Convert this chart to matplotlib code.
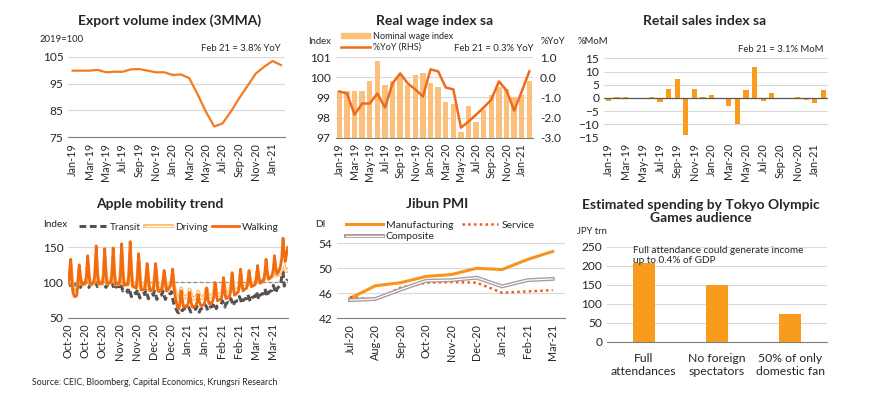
import numpy as np
import pandas as pd
import matplotlib
matplotlib.use('Agg')
import matplotlib.pyplot as plt
import matplotlib.patheffects as pe
from matplotlib.lines import Line2D
from matplotlib.patches import Patch

plt.rcParams['font.family'] = ['Lato', 'DejaVu Sans']

#* monthly data, Jan-19 .. Feb-21
months = pd.date_range('2019-01-01', '2021-02-01', freq='MS')
month_labels = [d.strftime('%b-%y') for d in months]

export_idx = [99.8, 99.8, 99.8, 100.1, 99.2, 99.4, 99.4, 100.3, 100.4, 99.8, 99.2, 99.2,
              98.2, 98.4, 97.0, 91.0, 84.5, 79.0, 80.2, 84.6, 89.6, 94.2, 98.8, 101.3,
              103.4, 101.9]

wage_idx = [99.3, 99.3, 99.3, 99.3, 99.8, 100.8, 99.6, 99.8, 100.1, 99.6, 100.1, 100.2,
            99.7, 99.5, 98.8, 98.7, 97.3, 98.6, 97.8, 98.4, 99.1, 99.5, 99.4, 99.0,
            99.1, 99.8]
wage_yoy = [-0.7, -0.8, -1.85, -1.3, -1.3, -0.8, -1.5, -0.3, 0.2, -0.3, -0.6, -0.95,
            0.4, 0.3, -0.5, -0.6, -2.5, -2.2, -1.85, -1.5, -1.1, -0.2, -0.65, -1.65,
            -0.7, 0.3]

retail_mom = [-1.0, 0.3, 0.4, 0.0, 0.0, 0.4, -1.5, 3.5, 7.2, -13.8, 3.5, 0.3,
              1.1, 0.0, -3.0, -10.0, 3.2, 11.7, -1.2, 1.8, 0.0, 0.0, 0.3, -0.6,
              -1.8, 3.1]

#* Apple mobility, daily from 1 Oct 2020 (one row per week)
walking = [
    100, 112, 133, 100, 85, 80, 80,
    82, 100, 125, 108, 98, 97, 100,
    99, 108, 138, 112, 98, 97, 99,
    100, 112, 152, 115, 99, 98, 100,
    99, 110, 148, 114, 98, 99, 100,
    100, 112, 149, 113, 97, 98, 99,
    98, 110, 155, 116, 96, 97, 98,
    97, 112, 158, 117, 95, 94, 93,
    92, 108, 141, 110, 90, 89, 90,
    91, 104, 127, 106, 89, 88, 90,
    90, 103, 127, 105, 88, 87, 89,
    90, 100, 117, 102, 88, 89, 92,
    95, 102, 119, 95, 82, 72, 65,
    62, 70, 88, 75, 65, 66, 67,
    66, 72, 86, 74, 66, 65, 66,
    67, 71, 83, 73, 68, 67, 68,
    69, 76, 92, 78, 70, 70, 72,
    73, 80, 100, 82, 74, 75, 76,
    76, 84, 107, 86, 77, 78, 79,
    80, 90, 114, 92, 82, 83, 85,
    86, 96, 119, 98, 88, 90, 91,
    92, 100, 117, 102, 94, 95, 96,
    97, 105, 124, 108, 99, 100, 102,
    103, 112, 133, 115, 105, 106, 108,
    110, 118, 138, 122, 112, 114, 118,
    124, 135, 163, 140, 130, 142, 150]
driving = [
    100, 108, 125, 105, 88, 85, 87,
    88, 100, 118, 105, 98, 97, 99,
    99, 106, 128, 108, 98, 97, 99,
    100, 108, 138, 110, 99, 98, 100,
    99, 107, 135, 110, 98, 99, 100,
    100, 108, 136, 110, 97, 98, 99,
    98, 107, 140, 112, 96, 97, 98,
    97, 108, 142, 112, 95, 94, 94,
    93, 105, 130, 107, 91, 90, 91,
    92, 102, 120, 104, 90, 89, 91,
    91, 101, 120, 103, 89, 89, 90,
    91, 99, 112, 100, 90, 90, 93,
    96, 101, 112, 96, 88, 82, 76,
    74, 80, 92, 84, 78, 79, 80,
    79, 82, 90, 83, 78, 77, 78,
    79, 81, 87, 82, 79, 78, 79,
    80, 83, 92, 85, 80, 80, 81,
    81, 85, 98, 87, 82, 82, 83,
    83, 87, 102, 90, 84, 84, 85,
    86, 92, 108, 95, 88, 88, 90,
    90, 96, 112, 99, 92, 93, 94,
    95, 99, 112, 101, 96, 97, 98,
    99, 103, 116, 105, 100, 101, 103,
    104, 108, 121, 110, 105, 106, 107,
    108, 113, 126, 115, 110, 111, 113,
    116, 120, 130, 122, 117, 116, 118]
transit = [
    97, 100, 95, 92, 97, 96, 97,
    97, 101, 96, 93, 97, 97, 98,
    98, 102, 97, 93, 97, 98, 98,
    98, 102, 98, 94, 97, 98, 99,
    98, 102, 97, 93, 96, 97, 97,
    96, 100, 95, 90, 93, 94, 95,
    94, 99, 94, 88, 90, 90, 89,
    86, 92, 86, 80, 84, 84, 85,
    84, 90, 84, 78, 82, 83, 84,
    83, 89, 84, 77, 81, 82, 83,
    82, 88, 83, 76, 80, 81, 82,
    82, 88, 82, 76, 80, 81, 83,
    84, 87, 78, 70, 66, 62, 58,
    57, 60, 62, 60, 62, 63, 64,
    63, 66, 62, 58, 61, 62, 63,
    62, 66, 63, 58, 62, 63, 64,
    64, 68, 65, 60, 64, 65, 66,
    66, 71, 68, 63, 67, 68, 69,
    69, 74, 70, 65, 70, 71, 72,
    71, 77, 72, 67, 72, 73, 74,
    74, 80, 76, 70, 75, 76, 77,
    77, 83, 78, 73, 78, 79, 80,
    80, 87, 82, 76, 82, 83, 84,
    84, 91, 86, 80, 86, 87, 88,
    89, 96, 91, 85, 91, 93, 95,
    98, 108, 115, 95, 100, 103, 104]
days = pd.date_range('2020-10-01', periods=len(walking), freq='D')
day_ticks = pd.date_range('2020-10-01', periods=13, freq='14D')

#* Jibun PMI
pmi_months = ['Jul-20', 'Aug-20', 'Sep-20', 'Oct-20', 'Nov-20', 'Dec-20', 'Jan-21', 'Feb-21', 'Mar-21']
pmi_manu = [45.2, 47.2, 47.7, 48.7, 49.0, 50.0, 49.8, 51.4, 52.7]
pmi_serv = [45.4, 45.0, 46.9, 47.7, 47.8, 47.7, 46.1, 46.3, 46.5]
pmi_comp = [44.9, 45.1, 46.6, 48.0, 48.1, 48.5, 47.1, 48.1, 48.3]

#* Olympic spending
olym_cats = ['Full\nattendances', 'No foreign\nspectators', '50% of only\ndomestic fan']
olym_vals = [207, 148, 74]

TXT = '#262626'
GRID = '#d9d9d9'
AXL = '#7f7f7f'


def style(ax, spine=True):
  for s in ['top', 'right', 'left']:
    ax.spines[s].set_visible(False)
  ax.spines['bottom'].set_visible(spine)
  ax.spines['bottom'].set_color(AXL)
  ax.grid(axis='y', color=GRID, lw=0.8)
  ax.set_axisbelow(True)
  ax.tick_params(length=0, labelsize=7.8, colors=TXT)
  ax.tick_params(axis='y', labelsize=8.6)
  ax.tick_params(axis='x', pad=4)


def month_axis(ax):
  ax.set_xlim(-0.5, len(months) - 0.5)
  ax.set_xticks(range(0, len(months), 2))
  ax.set_xticklabels(month_labels[::2], rotation=90)


def main() -> None:
  fig = plt.figure(figsize=(8.7, 3.96), dpi=100)

  #* Export volume index
  ax1 = fig.add_axes([0.0787, 0.6533, 0.2490, 0.2035])
  style(ax1)
  ax1.plot(range(len(months)), export_idx, color='#f47b20', lw=1.6)
  ax1.set_ylim(75, 105)
  ax1.set_yticks([75, 85, 95, 105])
  month_axis(ax1)
  fig.text(0.195, 0.948, 'Export volume index (3MMA)', ha='center', va='center',
           fontsize=10, fontweight='bold', color=TXT)
  fig.text(0.046, 0.899, '2019=100', ha='left', va='center', fontsize=6.8, color=TXT)
  ax1.text(0.98, 1.05, 'Feb 21 = 3.8% YoY', transform=ax1.transAxes, ha='right',
           va='bottom', fontsize=6.8, color=TXT)

  #* Real wage index
  ax2 = fig.add_axes([0.3857, 0.6523, 0.2271, 0.2030])
  style(ax2)
  x = np.arange(len(months))
  ax2.bar(x, [v - 97 for v in wage_idx], bottom=97, width=0.7, color='#fbc07c')
  ax2.set_ylim(97, 101)
  ax2.set_yticks([97, 98, 99, 100, 101])
  month_axis(ax2)
  ax2b = ax2.twinx()
  for s in ax2b.spines.values():
    s.set_visible(False)
  ax2b.plot(x, wage_yoy, color='#f06a1e', lw=1.8)
  ax2b.set_ylim(-3, 1)
  ax2b.set_yticks([-3, -2, -1, 0, 1])
  ax2b.set_yticklabels([f'{v:.1f}' for v in [-3, -2, -1, 0, 1]])
  ax2b.tick_params(length=0, labelsize=8.6, colors=TXT, pad=5)
  ax2.legend(handles=[Patch(color='#fbc07c', label='Nominal wage index'),
                      Line2D([0], [0], color='#f06a1e', lw=1.8, label='%YoY (RHS)')],
             loc='lower left', bbox_to_anchor=(0.0, 1.0), frameon=False, fontsize=6.5,
             handlelength=3.2, handleheight=0.6, labelspacing=0.25, borderpad=0.1,
             handletextpad=0.3, labelcolor=TXT)
  fig.text(0.5, 0.948, 'Real wage index sa', ha='center', va='center',
           fontsize=10, fontweight='bold', color=TXT)
  fig.text(0.354, 0.894, 'Index', ha='left', va='center', fontsize=6.8, color=TXT)
  fig.text(0.621, 0.894, '%YoY', ha='left', va='center', fontsize=6.8, color=TXT)
  ax2.text(1.0, 1.05, 'Feb 21 = 0.3% YoY', transform=ax2.transAxes, ha='right',
           va='bottom', fontsize=6.8, color=TXT)

  #* Retail sales
  ax3 = fig.add_axes([0.6943, 0.6523, 0.2570, 0.2005])
  style(ax3, spine=False)
  ax3.bar(range(len(months)), retail_mom, width=0.6, color='#f99b1c')
  ax3.axhline(0, color='#595959', lw=0.9)
  ax3.set_ylim(-15, 15)
  ax3.set_yticks(range(-15, 16, 5))
  month_axis(ax3)
  fig.text(0.81, 0.948, 'Retail sales index sa', ha='center', va='center',
           fontsize=10, fontweight='bold', color=TXT)
  fig.text(0.664, 0.894, '%MoM', ha='left', va='center', fontsize=6.8, color=TXT)
  ax3.text(0.98, 1.05, 'Feb 21 = 3.1% MoM', transform=ax3.transAxes, ha='right',
           va='bottom', fontsize=6.8, color=TXT)

  #* Apple mobility
  ax4 = fig.add_axes([0.0785, 0.1977, 0.2524, 0.2134])
  style(ax4)
  ax4.axhline(100, color='#8c8c8c', lw=0.9, ls=(0, (3, 2)))
  ax4.plot(days, transit, color='#5a5050', lw=2.2, ls=(0, (2.2, 1.2)), label='Transit')
  ax4.plot(days, driving, color='white', lw=0.8, label='Driving',
           path_effects=[pe.Stroke(linewidth=2.8, foreground='#fdbf72'), pe.Normal()])
  ax4.plot(days, walking, color='#f26b0f', lw=2.0, label='Walking')
  ax4.set_xlim(days[0], days[-1])
  ax4.set_ylim(50, 170)
  ax4.set_yticks([50, 100, 150])
  ax4.set_xticks(day_ticks)
  ax4.set_xticklabels([d.strftime('%b-%y') for d in day_ticks], rotation=90)
  ax4.legend(loc='lower left', bbox_to_anchor=(0.04, 0.99), ncol=3, frameon=False,
             fontsize=7.3, handlelength=2.7, columnspacing=0.4, handletextpad=0.3,
             borderpad=0.1, borderaxespad=0.1, labelcolor=TXT)
  fig.text(0.184, 0.485, 'Apple mobility trend', ha='center', va='center',
           fontsize=10, fontweight='bold', color=TXT)
  fig.text(0.049, 0.432, 'Index', ha='left', va='center', fontsize=7.2, color=TXT)

  #* Jibun PMI
  ax5 = fig.add_axes([0.3877, 0.1962, 0.2621, 0.1894])
  style(ax5)
  xp = np.arange(len(pmi_months))
  l_manu, = ax5.plot(xp, pmi_manu, color='#f7941d', lw=2.2, label='Manufacturing')
  l_serv, = ax5.plot(xp, pmi_serv, color='#f05a22', lw=1.8, ls=(0, (1, 1.3)), label='Service')
  l_comp, = ax5.plot(xp, pmi_comp, color='white', lw=0.9, label='Composite',
                     path_effects=[pe.Stroke(linewidth=2.8, foreground='#a89a9a'), pe.Normal()])
  ax5.set_xlim(-0.5, len(pmi_months) - 0.5)
  ax5.set_xticks(xp)
  ax5.set_xticklabels(pmi_months, rotation=90)
  ax5.set_ylim(42, 54)
  ax5.set_yticks([42, 46, 50, 54])
  ax5.legend(handles=[l_manu, l_comp, l_serv], loc='lower left', bbox_to_anchor=(0.03, 1.0),
             ncol=2, frameon=False, fontsize=7.5, handlelength=3.5, columnspacing=0.8,
             handletextpad=0.3, labelspacing=0.2, borderpad=0.1, borderaxespad=0.1,
             labelcolor=TXT)
  fig.text(0.502, 0.485, 'Jibun PMI', ha='center', va='center',
           fontsize=10, fontweight='bold', color=TXT)
  fig.text(0.362, 0.432, 'DI', ha='left', va='center', fontsize=7.2, color=TXT)

  #* Olympic spending
  ax6 = fig.add_axes([0.6977, 0.1371, 0.2529, 0.2399])
  style(ax6)
  xo = np.arange(len(olym_cats))
  ax6.bar(xo, olym_vals, width=0.3, color='#f99b1c')
  ax6.set_xlim(-0.5, len(olym_cats) - 0.5)
  ax6.set_ylim(0, 250)
  ax6.set_yticks(range(0, 251, 50))
  ax6.set_xticks(xo)
  ax6.set_xticklabels(olym_cats, fontsize=8.8, linespacing=1.2)
  ax6.tick_params(axis='y', labelsize=8.6)
  ax6.tick_params(axis='x', pad=8)
  fig.text(0.806, 0.465, 'Estimated spending by Tokyo Olympic\nGames audience', ha='center',
           va='center', fontsize=10, fontweight='bold', color=TXT, linespacing=1.1)
  fig.text(0.663, 0.416, 'JPY trn', ha='left', va='center', fontsize=6.8, color=TXT)
  ax6.text(0.12, 1.01, 'Full attendance could generate income\nup to 0.4% of GDP',
           transform=ax6.transAxes, ha='left', va='top', fontsize=7.2, color=TXT,
           linespacing=1.15)

  fig.text(0.037, 0.033, 'Source: CEIC, Bloomberg, Capital Economics, Krungsri Research',
           ha='left', va='center', fontsize=6.3, color=TXT)

  fig.savefig('out.png', dpi=100)


if __name__ == "__main__":
  main()
